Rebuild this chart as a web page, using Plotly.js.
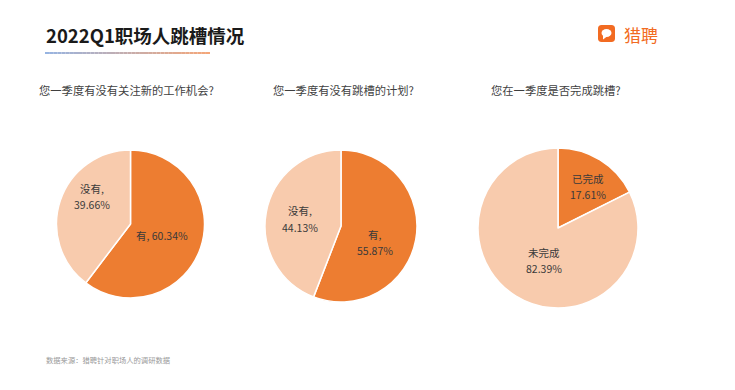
<!DOCTYPE html>
<html>
<head>
<meta charset="utf-8">
<script src="https://cdn.plot.ly/plotly-3.0.1.min.js"></script>
<style>
html,body{margin:0;padding:0;background:#fff;}
#chart{width:735px;height:390px;}
</style>
</head>
<body>
<div id="chart"></div>
<script>
// ---- data ----
const chartTitle = "2022Q1职场人跳槽情况";
const brandName = "猎聘";
const sourceNote = "数据来源：猎聘针对职场人的调研数据";

const q1Title = "您一季度有没有关注新的工作机会?";
const q1Labels = ["有", "没有"];
const q1Values = [60.34, 39.66];
const q1TextLines = [["有, 60.34%"], ["没有,", "39.66%"]];

const q2Title = "您一季度有没有跳槽的计划?";
const q2Labels = ["有", "没有"];
const q2Values = [55.87, 44.13];
const q2TextLines = [["有,", "55.87%"], ["没有,", "44.13%"]];

const q3Title = "您在一季度是否完成跳槽?";
const q3Labels = ["已完成", "未完成"];
const q3Values = [17.61, 82.39];
const q3TextLines = [["已完成", "17.61%"], ["未完成", "82.39%"]];

// ---- styles ----
const W = 735, H = 390;
const DARK = "#ED7D31", LIGHT = "#F8CBAD";
const FONT = '"Noto Sans CJK SC", "Noto Sans", sans-serif';
const LABEL_COLOR = "#3a3a3a";

function dom(cx, cy, r) {
  return {x: [(cx - r) / W, (cx + r) / W], y: [(H - cy - r) / H, (H - cy + r) / H]};
}

function pie(labels, values, domain) {
  return {
    type: "pie",
    labels: labels,
    values: values,
    textinfo: "none",
    sort: false,
    direction: "clockwise",
    rotation: 0,
    marker: {colors: [DARK, LIGHT], line: {color: "#ffffff", width: 1.5}},
    domain: domain,
    hoverinfo: "label+percent",
    showlegend: false
  };
}

// pie geometry (pixels) and label placement style (angle offset deg, radial fraction)
const pies = [
  {values: q1Values, lines: q1TextLines, cx: 130.5, cy: 224, r: 74, place: [[1, 0.45], [17, 0.64]]},
  {values: q2Values, lines: q2TextLines, cx: 341, cy: 226, r: 76, place: [[15, 0.50], [-1, 0.55]]},
  {values: q3Values, lines: q3TextLines, cx: 558, cy: 228, r: 80, place: [[4, 0.64], [-9, 0.44]]}
];

const data = [
  pie(q1Labels, q1Values, dom(pies[0].cx, pies[0].cy, pies[0].r)),
  pie(q2Labels, q2Values, dom(pies[1].cx, pies[1].cy, pies[1].r)),
  pie(q3Labels, q3Values, dom(pies[2].cx, pies[2].cy, pies[2].r))
];

// gradient underline under title (decoration)
const shapes = [];
const gx0 = 45, gx1 = 210, gy = 53, nSeg = 40;
const c0 = [150, 180, 226], c1 = [245, 166, 120];
for (let i = 0; i < nSeg; i++) {
  const t = (i + 0.5) / nSeg;
  const c = c0.map((v, k) => Math.round(v + (c1[k] - v) * t));
  shapes.push({
    type: "line", xref: "paper", yref: "paper",
    x0: (gx0 + (gx1 - gx0) * i / nSeg) / W,
    x1: (gx0 + (gx1 - gx0) * (i + 1) / nSeg) / W,
    y0: (H - gy) / H, y1: (H - gy) / H,
    line: {color: "rgb(" + c.join(",") + ")", width: 2}
  });
}
// logo icon: rounded orange square with speech bubble
function px(x) { return (x / W).toFixed(5); }
function py(y) { return ((H - y) / H).toFixed(5); }
const lx0 = 598, lx1 = 615, ly0 = 25, ly1 = 42, rr = 3.5;
shapes.push({
  type: "path", xref: "paper", yref: "paper",
  path: `M ${px(lx0 + rr)} ${py(ly0)} L ${px(lx1 - rr)} ${py(ly0)} Q ${px(lx1)} ${py(ly0)} ${px(lx1)} ${py(ly0 + rr)} L ${px(lx1)} ${py(ly1 - rr)} Q ${px(lx1)} ${py(ly1)} ${px(lx1 - rr)} ${py(ly1)} L ${px(lx0 + rr)} ${py(ly1)} Q ${px(lx0)} ${py(ly1)} ${px(lx0)} ${py(ly1 - rr)} L ${px(lx0)} ${py(ly0 + rr)} Q ${px(lx0)} ${py(ly0)} ${px(lx0 + rr)} ${py(ly0)} Z`,
  fillcolor: "#F26B22", line: {width: 0}
});
shapes.push({
  type: "circle", xref: "paper", yref: "paper",
  x0: px(601.5), x1: px(611.5), y0: py(37), y1: py(29),
  fillcolor: "#ffffff", line: {width: 0}
});
shapes.push({
  type: "path", xref: "paper", yref: "paper",
  path: `M ${px(603)} ${py(35)} L ${px(603)} ${py(39.5)} L ${px(607)} ${py(36.5)} Z`,
  fillcolor: "#ffffff", line: {width: 0}
});

function ann(text, x, y, size, color, opts) {
  return Object.assign({
    text: text, xref: "paper", yref: "paper",
    x: x / W, y: (H - y) / H, xanchor: "left", yanchor: "middle",
    showarrow: false, font: {family: FONT, size: size, color: color}
  }, opts || {});
}

const annotations = [
  ann("<b>" + chartTitle + "</b>", 44, 35, 18.5, "#1a1a1a"),
  ann(brandName, 622, 34, 17, "#F26B22"),
  ann(q1Title, 37, 90, 11.3, "#3f3f3f"),
  ann(q2Title, 271, 90, 11.3, "#3f3f3f"),
  ann(q3Title, 489, 90, 11.3, "#3f3f3f"),
  ann(sourceNote, 44, 360, 7.3, "#9a9a9a")
];

// slice labels placed from each slice's mid-angle (derived from the values)
const LINE_GAP = 16.5;
pies.forEach(p => {
  const total = p.values.reduce((a, b) => a + b, 0);
  let cum = 0;
  p.values.forEach((v, i) => {
    const mid = (cum + v / 2) / total * 360 + p.place[i][0];
    cum += v;
    const rad = mid * Math.PI / 180;
    const lx = p.cx + p.place[i][1] * p.r * Math.sin(rad);
    const ly = p.cy - p.place[i][1] * p.r * Math.cos(rad);
    const lines = p.lines[i];
    lines.forEach((t, j) => {
      const yy = ly + (j - (lines.length - 1) / 2) * LINE_GAP;
      annotations.push(ann(t, lx, yy, 10.5, LABEL_COLOR, {xanchor: "center"}));
    });
  });
});

const layout = {
  width: W, height: H,
  margin: {l: 0, r: 0, t: 0, b: 0},
  paper_bgcolor: "#ffffff",
  plot_bgcolor: "#ffffff",
  font: {family: FONT},
  showlegend: false,
  shapes: shapes,
  annotations: annotations
};

Plotly.newPlot("chart", data, layout, {displayModeBar: false, staticPlot: true});
</script>
</body>
</html>
